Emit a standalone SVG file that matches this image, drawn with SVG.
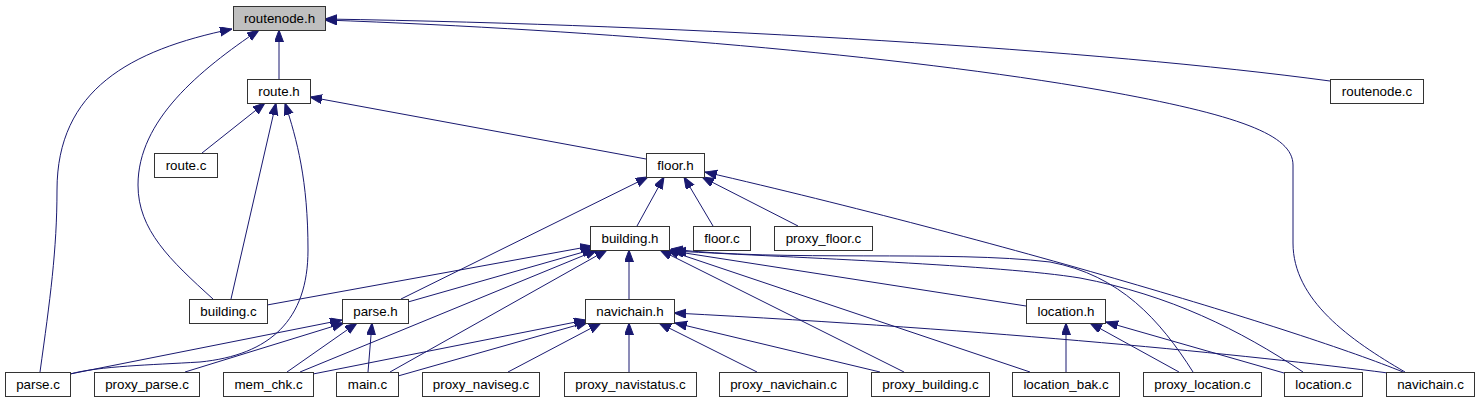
<svg xmlns="http://www.w3.org/2000/svg" width="1479" height="403" viewBox="0 0 1479 403">
<style>
.n rect{fill:#ffffff;stroke:#333333;stroke-width:1}
.n text{font-family:"Liberation Sans",Arial,Helvetica,sans-serif;font-size:13.33px;fill:#000000;text-anchor:middle}
#edges path{fill:none;stroke:#191970;stroke-width:1;marker-end:url(#arr)}
</style>
<defs>
<marker id="arr" markerUnits="userSpaceOnUse" markerWidth="12" markerHeight="10" refX="12" refY="4.5" orient="auto">
<path d="M0,0 L12,4.5 L0,9 z" fill="#191970" stroke="#191970" stroke-width="1"/>
</marker>
</defs>
<rect width="1479" height="403" fill="#ffffff"/>
<g id="edges">
<path d="M279,79 L279,30"/>
<path d="M40,372 C50,300 57,250 57,190 C57,90 130,50 232,29"/>
<path d="M213,299 C170,260 138,230 138,185 C138,120 200,70 259,30"/>
<path d="M1330,81 C1100,50 700,25 325,19"/>
<path d="M1405,372 C1350,340 1293,300 1293,243 L1293,165 C1293,135 1240,115 1100,90 C900,55 600,30 325,20"/>
<path d="M231,299 L276,103"/>
<path d="M202,153 L265,103"/>
<path d="M70,374 C100,366 150,365 200,362 C270,355 308,320 308,250 C308,180 297,140 285,103"/>
<path d="M646,159 L310,97"/>
<path d="M637,226 L664,177"/>
<path d="M713,226 L684,177"/>
<path d="M798,226 L702,177"/>
<path d="M401,299 L648,177"/>
<path d="M1403,372 C1300,330 1000,240 705,172"/>
<path d="M629,299 L629,250"/>
<path d="M267,305 L592,246"/>
<path d="M408,302 L594,249"/>
<path d="M300,372 L597,250"/>
<path d="M390,372 L607,250"/>
<path d="M904,372 L660,250"/>
<path d="M1030,372 L667,250"/>
<path d="M1026,306 L672,251"/>
<path d="M1193,372 C1160,320 1120,275 1050,262 C950,250 780,262 671,249"/>
<path d="M1303,372 C1240,330 1170,295 1080,278 C1000,265 800,258 674,251"/>
<path d="M629,372 L629,323"/>
<path d="M313,374 L586,320"/>
<path d="M398,376 L588,322"/>
<path d="M508,372 L601,323"/>
<path d="M757,372 L659,323"/>
<path d="M880,372 L675,323"/>
<path d="M1388,373 C1250,355 1000,330 674,313"/>
<path d="M70,374 L342,320"/>
<path d="M185,372 L344,323"/>
<path d="M287,372 L357,323"/>
<path d="M368,372 L372,323"/>
<path d="M1066,372 L1066,323"/>
<path d="M1179,372 L1090,323"/>
<path d="M1284,373 L1106,322"/>
</g>
<g id="routenode_h" class="n"><rect x="233.5" y="6.5" width="92" height="24" style="fill:#bfbfbf"/><text x="279.5" y="23">routenode.h</text></g>
<g id="route_h" class="n"><rect x="247.5" y="79.5" width="63" height="24"/><text x="279" y="96">route.h</text></g>
<g id="route_c" class="n"><rect x="154.5" y="153.5" width="63" height="24"/><text x="186" y="170">route.c</text></g>
<g id="floor_h" class="n"><rect x="646.5" y="153.5" width="58" height="24"/><text x="675.5" y="170">floor.h</text></g>
<g id="routenode_c" class="n"><rect x="1330.5" y="79.5" width="93" height="24"/><text x="1377" y="96">routenode.c</text></g>
<g id="building_h" class="n"><rect x="590.5" y="226.5" width="79" height="24"/><text x="630" y="243">building.h</text></g>
<g id="floor_c" class="n"><rect x="693.5" y="226.5" width="57" height="24"/><text x="722" y="243">floor.c</text></g>
<g id="proxy_floor_c" class="n"><rect x="774.5" y="226.5" width="98" height="24"/><text x="823.5" y="243">proxy_floor.c</text></g>
<g id="building_c" class="n"><rect x="189.5" y="299.5" width="78" height="24"/><text x="228.5" y="316">building.c</text></g>
<g id="parse_h" class="n"><rect x="342.5" y="299.5" width="66" height="24"/><text x="375.5" y="316">parse.h</text></g>
<g id="navichain_h" class="n"><rect x="585.5" y="299.5" width="89" height="24"/><text x="630" y="316">navichain.h</text></g>
<g id="location_h" class="n"><rect x="1026.5" y="299.5" width="79" height="24"/><text x="1066" y="316">location.h</text></g>
<g id="parse_c" class="n"><rect x="5.5" y="372.5" width="65" height="24"/><text x="38" y="389">parse.c</text></g>
<g id="proxy_parse_c" class="n"><rect x="94.5" y="372.5" width="105" height="24"/><text x="147" y="389">proxy_parse.c</text></g>
<g id="mem_chk_c" class="n"><rect x="223.5" y="372.5" width="90" height="24"/><text x="268.5" y="389">mem_chk.c</text></g>
<g id="main_c" class="n"><rect x="336.5" y="372.5" width="62" height="24"/><text x="367.5" y="389">main.c</text></g>
<g id="proxy_naviseg_c" class="n"><rect x="422.5" y="372.5" width="117" height="24"/><text x="481" y="389">proxy_naviseg.c</text></g>
<g id="proxy_navistatus_c" class="n"><rect x="564.5" y="372.5" width="132" height="24"/><text x="630.5" y="389">proxy_navistatus.c</text></g>
<g id="proxy_navichain_c" class="n"><rect x="719.5" y="372.5" width="128" height="24"/><text x="783.5" y="389">proxy_navichain.c</text></g>
<g id="proxy_building_c" class="n"><rect x="871.5" y="372.5" width="118" height="24"/><text x="930.5" y="389">proxy_building.c</text></g>
<g id="location_bak_c" class="n"><rect x="1012.5" y="372.5" width="107" height="24"/><text x="1066" y="389">location_bak.c</text></g>
<g id="proxy_location_c" class="n"><rect x="1143.5" y="372.5" width="118" height="24"/><text x="1202.5" y="389">proxy_location.c</text></g>
<g id="location_c" class="n"><rect x="1284.5" y="372.5" width="78" height="24"/><text x="1323.5" y="389">location.c</text></g>
<g id="navichain_c" class="n"><rect x="1386.5" y="372.5" width="88" height="24"/><text x="1430.5" y="389">navichain.c</text></g>
</svg>
